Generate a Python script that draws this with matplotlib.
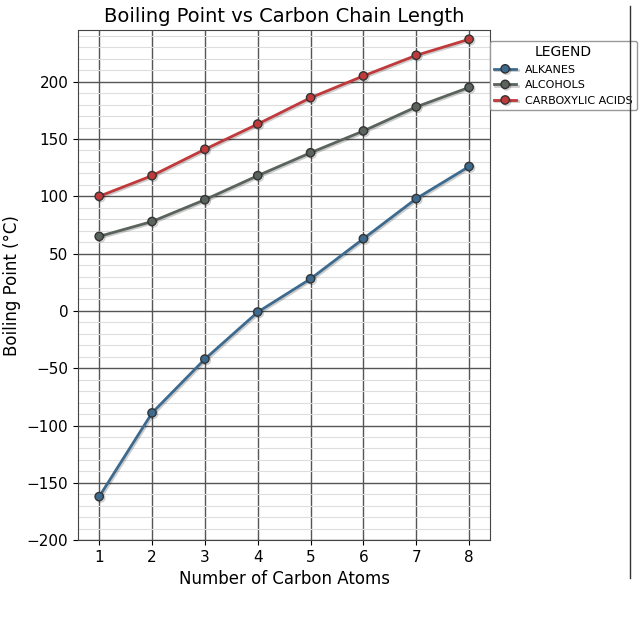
import matplotlib.pyplot as plt
import matplotlib.patheffects as pe
from matplotlib.ticker import MultipleLocator

carbons = [1, 2, 3, 4, 5, 6, 7, 8]
alkanes = [-162, -89, -42, -1, 28, 63, 98, 126]
alcohols = [65, 78, 97, 118, 138, 157, 178, 195]
acids = [100, 118, 141, 163, 186, 205, 223, 237]

series = [
    ('ALKANES', alkanes, '#3d6a8f'),
    ('ALCOHOLS', alcohols, '#5a635c'),
    ('CARBOXYLIC ACIDS', acids, '#c0393b'),
]

fig = plt.figure(figsize=(6.4, 6.4), dpi=100)
ax = fig.add_axes([0.122, 0.156, 0.644, 0.797])

for name, vals, col in series:
    ax.plot(carbons, vals, color=col, lw=2, marker='o', ms=6,
            markeredgecolor='#333333', label=name,
            path_effects=[pe.SimpleLineShadow(offset=(1, -1), alpha=0.2), pe.Normal()])

ax.set_xlim(0.6, 8.4)
ax.set_ylim(-200, 245)
ax.set_xticks(carbons)
ax.yaxis.set_major_locator(MultipleLocator(50))
ax.yaxis.set_minor_locator(MultipleLocator(10))
ax.grid(which='major', color='#555555', lw=1, linestyle='-')
ax.grid(which='minor', axis='y', color='#dddddd', lw=0.8, linestyle='-')
ax.tick_params(which='minor', left=False)
ax.set_axisbelow(True)
for s in ax.spines.values():
    s.set_color('#444444')
ax.tick_params(labelsize=11)

ax.set_title('Boiling Point vs Carbon Chain Length', fontsize=14)
ax.set_xlabel('Number of Carbon Atoms', fontsize=12)
ax.set_ylabel('Boiling Point (°C)', fontsize=12)

leg = ax.legend(title='LEGEND', loc='upper left', bbox_to_anchor=(0.985, 0.99),
                fontsize=8, title_fontsize=10, framealpha=1, edgecolor='#999999')

fig.add_artist(plt.Line2D([0.984, 0.984], [0.097, 0.99], color='#333333', lw=1))

fig.savefig('out.png')
